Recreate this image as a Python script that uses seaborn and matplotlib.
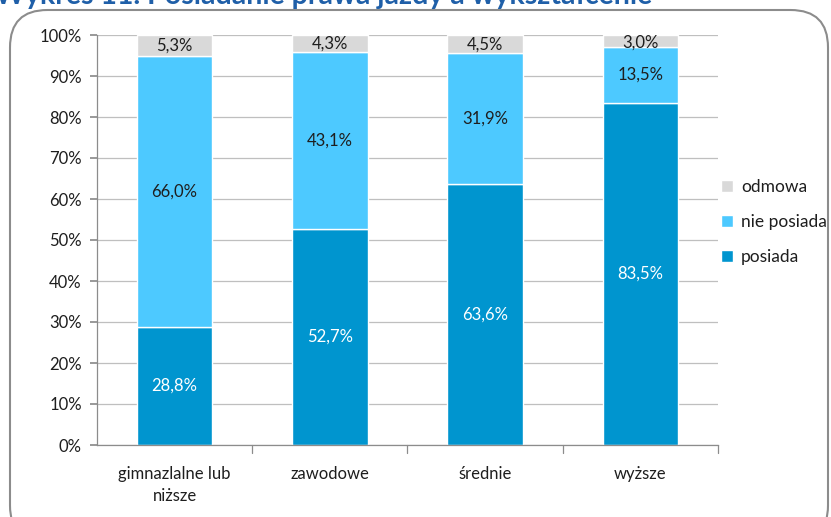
import matplotlib
matplotlib.use("Agg")
import matplotlib.pyplot as plt
from matplotlib.patches import FancyBboxPatch
import seaborn as sns
import pandas as pd
import numpy as np

categories = ["gimnazlalne lub\nniższe", "zawodowe", "średnie", "wyższe"]
posiada = [28.8, 52.7, 63.6, 83.5]
nie_posiada = [66.0, 43.1, 31.9, 13.5]
odmowa = [5.3, 4.3, 4.5, 3.0]
series_names = ["posiada", "nie posiada", "odmowa"]
colors = ["#0095CF", "#4DC9FF", "#D9D9D9"]
label_colors = ["white", "#1E1E1E", "#1E1E1E"]
yticks = [0, 10, 20, 30, 40, 50, 60, 70, 80, 90, 100]
title = "Wykres 11. Posiadanie prawa jazdy a wykształcenie"

sns.set_theme(style="white")
plt.rcParams["font.family"] = ["Lato", "DejaVu Sans"]

fig = plt.figure(figsize=(8.31, 5.17), dpi=100)
# rounded frame
frame = FancyBboxPatch((10/831, -0.05), (828-10)/831, 1 - 10/517 + 0.05,
                       boxstyle="round,pad=0,rounding_size=0.045",
                       transform=fig.transFigure, facecolor="none",
                       edgecolor="#8C8C8C", linewidth=1.5, zorder=-5,
                       mutation_aspect=831/517)
fig.patches.append(frame)
fig.text(-0.006, 1 - 4/517, title, color="#1F5FA8", fontsize=20.5,
         fontweight="bold", va="baseline", ha="left")

ax = fig.add_axes([97/831, 1 - 445/517, (718-97)/831, (445-35)/517], zorder=2)
ax.set_facecolor("none")

df = pd.DataFrame({"kat": categories, "posiada": posiada,
                   "nie posiada": nie_posiada, "odmowa": odmowa})
bottom = np.zeros(len(categories))
for name, col, lc in zip(series_names, colors, label_colors):
    vals = df[name].values
    sns.barplot(data=df, x="kat", y=name, ax=ax, color=col, width=0.485,
                bottom=bottom, saturation=1, label=name, zorder=2)
    cont = ax.containers[-1]
    for rect, v, b in zip(cont, vals, bottom):
        ax.text(rect.get_x() + rect.get_width()/2, min(b + v/2, 98.2),
                f"{v:.1f}%".replace(".", ","), ha="center", va="center",
                color=lc, fontsize=12, zorder=3)
    bottom = bottom + vals

ax.set_ylim(0, 100)
ax.set_xlim(-0.5, 3.5)
ax.set_yticks(yticks)
ax.set_yticklabels([f"{t}%" for t in yticks], fontsize=12, color="#1E1E1E")
ax.yaxis.grid(True, color="#BFBFBF", linewidth=0.9, zorder=0)
ax.set_axisbelow(True)
ax.set_xlabel("")
ax.set_ylabel("")
ax.set_xticks([0, 1, 2, 3])
ax.set_xticklabels(categories, fontsize=12, color="#1E1E1E", linespacing=1.45)
ax.tick_params(axis="x", length=0, pad=15)
ax.tick_params(axis="y", length=5, color="#8C8C8C", left=True, pad=6)
for x in [0.5, 1.5, 2.5, 3.5]:
    ax.plot([x, x], [0, -2], color="#8C8C8C", lw=0.9, clip_on=False)
for s in ["top", "right"]:
    ax.spines[s].set_visible(False)
for s in ["left", "bottom"]:
    ax.spines[s].set_color("#8C8C8C")
    ax.spines[s].set_linewidth(0.9)

h, l = ax.get_legend_handles_labels()
leg = ax.legend(h[::-1], l[::-1], loc="center left", bbox_to_anchor=(0.98, 0.544),
                frameon=False, fontsize=12.5, handlelength=0.7, handleheight=0.7,
                labelspacing=1.1, handletextpad=0.45)
for t in leg.get_texts():
    t.set_color("#1E1E1E")

fig.savefig("out.png", dpi=100)
